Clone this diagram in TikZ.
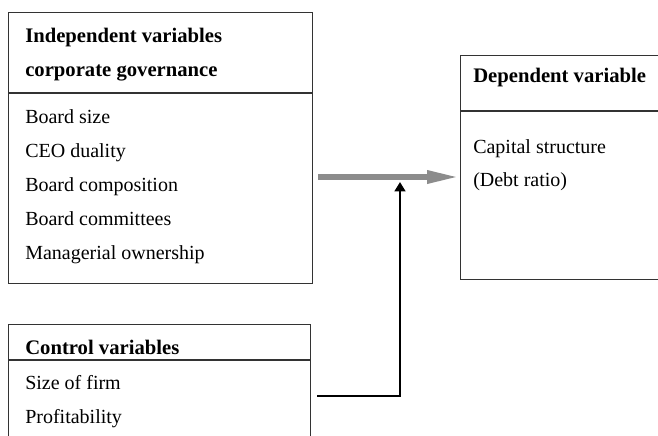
\documentclass[tikz,border=0pt]{standalone}
\usepackage{fontspec}
\setmainfont{Liberation Serif}
\usetikzlibrary{arrows.meta}
\definecolor{boxline}{HTML}{333333}
\definecolor{arrowgray}{HTML}{8C8C8C}
\tikzset{
  boxframe/.style={draw=boxline, line width=0.8pt, inner sep=0pt, anchor=north west},
  divider/.style={draw=boxline, line width=0.8pt},
  head/.style={anchor=base west, inner sep=0pt, font=\fontsize{15.5pt}{18pt}\selectfont\bfseries},
  item/.style={anchor=base west, inner sep=0pt, font=\fontsize{15pt}{18pt}\selectfont},
  grayarrow/.style={draw=arrowgray, line width=4.5pt, -{Triangle[length=24.75pt, width=9pt]}},
  blackarrow/.style={draw=black, line width=1.7pt, -{Triangle[length=7pt, width=8pt]}}
}
\begin{document}
\begin{tikzpicture}[x=0.75pt, y=-0.75pt]
\clip (0,0) rectangle (658,436);
\fill[white] (0,0) rectangle (658,436);
% Independent variables box
\node[boxframe, minimum width=228pt, minimum height=203.25pt] (iv) at (8,12) {};
\draw[divider] (8,93) -- (312,93);
\node[head] (iv1) at (25,42) {Independent variables};
\node[head] (iv2) at (25,76) {corporate governance};
\node[item] (i1) at (25,123) {Board size};
\node[item] (i2) at (25,157) {CEO duality};
\node[item] (i3) at (25,191) {Board composition};
\node[item] (i4) at (25,225) {Board committees};
\node[item] (i5) at (25,259) {Managerial ownership};
% Control variables box
\node[boxframe, minimum width=226.5pt, minimum height=100pt] (cv) at (8,324) {};
\draw[divider] (8,360) -- (310,360);
\node[head] (cv1) at (25,354) {Control variables};
\node[item] (c1) at (25,389) {Size of firm};
\node[item] (c2) at (25,423) {Profitability};
% Dependent variable box
\node[boxframe, minimum width=160pt, minimum height=168pt] (dv) at (460,55) {};
\draw[divider] (460,111) -- (680,111);
\node[head] (dv1) at (473,82) {Dependent variable};
\node[item] (d1) at (473,153) {Capital structure};
\node[item] (d2) at (473,186) {(Debt ratio)};
% connectors
\coordinate (gstart) at (318,177);
\coordinate (bstart) at (317,396);
\coordinate (bcorner) at (400,396);
\coordinate (bend) at (400,182);
\draw[grayarrow] (gstart) -- (dv.west |- gstart);
\draw[blackarrow] (bstart) -- (bcorner) -- (bend);
\end{tikzpicture}
\end{document}
